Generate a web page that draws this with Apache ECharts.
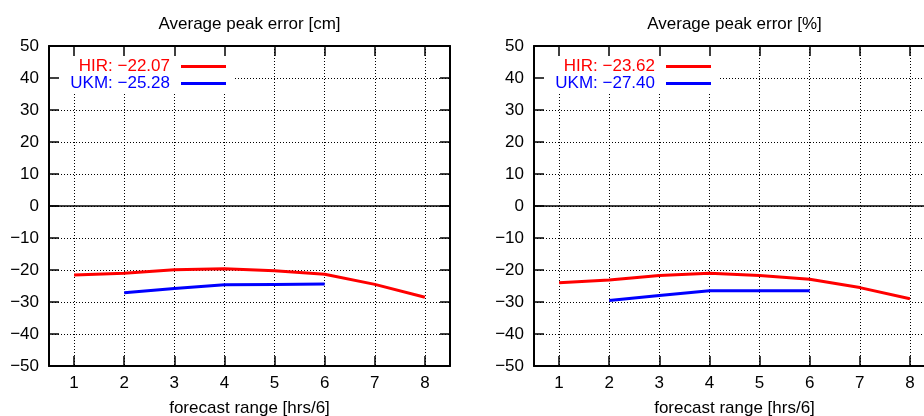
<!DOCTYPE html>
<html style="height: 100%">
    <head>
        <meta charset="utf-8">
    </head>
    <body style="height: 100%; margin: 0">
        <div id="container" style="height: 100%"></div>

        <script type="text/javascript" src="https://cdn.jsdelivr.net/npm/echarts@6/dist/echarts.min.js"></script>
        <script type="text/javascript">
var dom = document.getElementById("container");
var myChart = echarts.init(dom);

// data
var forecastRange = [1, 2, 3, 4, 5, 6, 7, 8];
var hirCm = [-21.6, -21.0, -19.9, -19.6, -20.2, -21.3, -24.5, -28.5];
var ukmCm = [null, -27.1, -25.8, -24.6, -24.5, -24.4, null, null];
var hirPct = [-24.0, -23.1, -21.7, -21.0, -21.7, -22.9, -25.5, -29.0];
var ukmPct = [null, -29.5, -28.0, -26.5, -26.5, -26.5, null, null];

var panelTitles = ['Average peak error [cm]', 'Average peak error [%]'];
var legendCm = ['HIR: \u221222.07', 'UKM: \u221225.28'];
var legendPct = ['HIR: \u221223.62', 'UKM: \u221227.40'];
var xName = 'forecast range [hrs/6]';

var RED = '#ff0000';
var BLUE = '#0000ff';
var FONT = 'Liberation Sans';
var FS = 17;

function pairs(ys) {
    return ys.map(function (y, i) { return [forecastRange[i], y]; });
}

function minus(v) {
    return v < 0 ? '\u2212' + Math.abs(v) : String(v);
}

// right panel runs past the window edge, like the original
var grids = [
    { left: 49, top: 46, width: 401, height: 320, outerBoundsMode: 'none', containLabel: false },
    { left: 534, top: 46, width: 401, height: 320, outerBoundsMode: 'none', containLabel: false }
];

var xAxes = [];
var yAxes = [];
grids.forEach(function (g, i) {
    // gridlines only (below legend box)
    xAxes.push({
        type: 'value', gridIndex: i, min: 0.5, max: 8.5, position: 'bottom', z: 0,
        axisLine: { show: false }, axisTick: { show: false, customValues: forecastRange },
        axisLabel: { show: false },
        splitLine: { show: true, lineStyle: { color: '#000', width: 1, type: [1, 2] } }
    });
    // bottom with ticks, labels and name
    xAxes.push({
        type: 'value', gridIndex: i, min: 0.5, max: 8.5, position: 'bottom', z: 3,
        name: xName, nameLocation: 'middle', nameGap: 34,
        nameTextStyle: { fontFamily: FONT, fontSize: FS, color: '#000' },
        axisLine: { show: true, onZero: false, lineStyle: { color: '#000', width: 2 } },
        axisTick: { show: true, inside: true, length: 10, customValues: forecastRange, lineStyle: { color: '#000', width: 1.5 } },
        axisLabel: { customValues: forecastRange, margin: 9, fontFamily: FONT, fontSize: FS, color: '#000' },
        splitLine: { show: false }
    });
    // top border with mirrored ticks
    xAxes.push({
        type: 'value', gridIndex: i, min: 0.5, max: 8.5, position: 'top', z: 3,
        axisLine: { show: true, onZero: false, lineStyle: { color: '#000', width: 2 } },
        axisTick: { show: true, inside: true, length: 10, customValues: forecastRange, lineStyle: { color: '#000', width: 1.5 } },
        axisLabel: { show: false },
        splitLine: { show: false }
    });

    yAxes.push({
        type: 'value', gridIndex: i, min: -50, max: 50, interval: 10, position: 'left', z: 0,
        axisLine: { show: false }, axisTick: { show: false }, axisLabel: { show: false },
        splitLine: { show: true, lineStyle: { color: '#000', width: 1, type: [1, 2] } }
    });
    yAxes.push({
        type: 'value', gridIndex: i, min: -50, max: 50, interval: 10, position: 'left', z: 3,
        axisLine: { show: true, onZero: false, lineStyle: { color: '#000', width: 2 } },
        axisTick: { show: true, inside: true, length: 10, lineStyle: { color: '#000', width: 1.5 } },
        axisLabel: { margin: 10, fontFamily: FONT, fontSize: FS, color: '#000', formatter: minus },
        splitLine: { show: false }
    });
    yAxes.push({
        type: 'value', gridIndex: i, min: -50, max: 50, interval: 10, position: 'right', z: 3,
        axisLine: { show: true, onZero: false, lineStyle: { color: '#000', width: 2 } },
        axisTick: { show: true, inside: true, length: 10, lineStyle: { color: '#000', width: 1.5 } },
        axisLabel: { show: false },
        splitLine: { show: false }
    });
});

var labelOf = {
    'HIR cm': legendCm[0], 'UKM cm': legendCm[1],
    'HIR %': legendPct[0], 'UKM %': legendPct[1]
};

function makeLegend(names, rightPx) {
    return {
        orient: 'vertical', align: 'right', right: rightPx, top: 58, padding: 0,
        itemGap: 0, itemWidth: 45, itemHeight: 3, icon: 'rect',
        selectedMode: false,
        formatter: function (n) { return labelOf[n]; },
        textStyle: { fontFamily: FONT, fontSize: FS, lineHeight: 17, padding: [0, 6, 0, 0] },
        data: [
            { name: names[0], textStyle: { color: RED } },
            { name: names[1], textStyle: { color: BLUE } }
        ]
    };
}

function lineSeries(name, ys, color, panel, withZero) {
    var s = {
        name: name, type: 'line', data: pairs(ys),
        xAxisIndex: panel * 3 + 1, yAxisIndex: panel * 3 + 1,
        showSymbol: false, symbol: 'none', connectNulls: false,
        itemStyle: { color: color },
        lineStyle: { color: color, width: 3, join: 'round' },
        z: 2
    };
    if (withZero) {
        s.markLine = {
            silent: true, symbol: ['none', 'none'], label: { show: false },
            lineStyle: { color: '#000', type: 'solid', width: 1.5 },
            data: [{ yAxis: 0 }]
        };
    }
    return s;
}

var option = {
    backgroundColor: '#fff',
    animation: false,
    title: [
        { text: panelTitles[0], left: 249.5, top: 16, textAlign: 'center', padding: 0,
          textStyle: { fontFamily: FONT, fontSize: FS, fontWeight: 'normal', color: '#000' } },
        { text: panelTitles[1], left: 734.5, top: 16, textAlign: 'center', padding: 0,
          textStyle: { fontFamily: FONT, fontSize: FS, fontWeight: 'normal', color: '#000' } }
    ],
    legend: [
        makeLegend(['HIR cm', 'UKM cm'], 924 - 226),
        makeLegend(['HIR %', 'UKM %'], 924 - 711)
    ],
    graphic: [
        { type: 'rect', z: 1, silent: true, shape: { x: 50, y: 48, width: 183, height: 46 }, style: { fill: '#fff' } },
        { type: 'rect', z: 1, silent: true, shape: { x: 535, y: 48, width: 183, height: 46 }, style: { fill: '#fff' } }
    ],
    grid: grids,
    xAxis: xAxes,
    yAxis: yAxes,
    series: [
        lineSeries('HIR cm', hirCm, RED, 0, true),
        lineSeries('UKM cm', ukmCm, BLUE, 0, false),
        lineSeries('HIR %', hirPct, RED, 1, true),
        lineSeries('UKM %', ukmPct, BLUE, 1, false)
    ]
};

if (option && typeof option === 'object') {
    myChart.setOption(option);
}
        </script>
    </body>
</html>
